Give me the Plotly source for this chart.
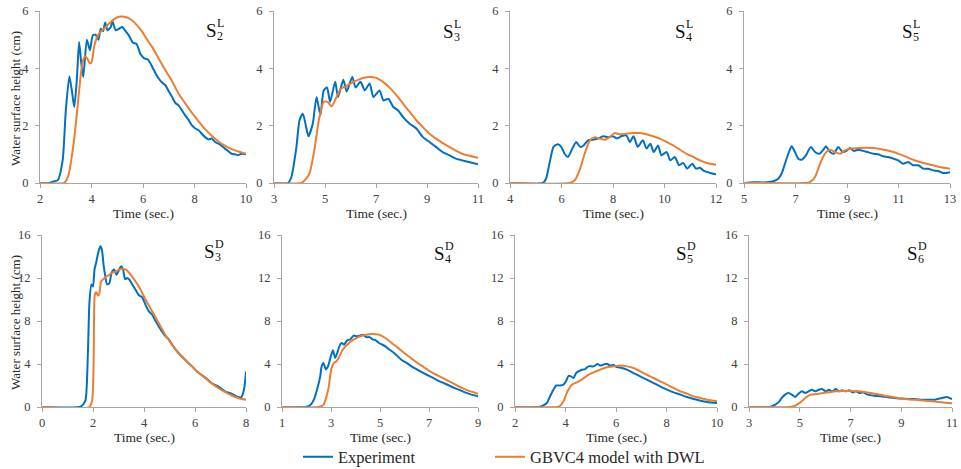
import plotly.graph_objects as go
from plotly.subplots import make_subplots

# ---------------- data ----------------
# Top row (S^L stations)
s2L_exp_t = [2.0, 2.37, 2.5, 2.69, 2.88, 3.0, 3.14, 3.24, 3.33, 3.43, 3.52, 3.6, 3.68, 3.82, 3.94, 4.05, 4.16, 4.27, 4.36, 4.45, 4.53, 4.62, 4.75, 4.81, 4.94, 5.07, 5.2, 5.32, 5.45, 5.6, 5.75, 5.9, 6.05, 6.2, 6.36, 6.5, 6.61, 6.75, 6.87, 7.0, 7.13, 7.25, 7.38, 7.5, 7.64, 7.77, 7.9, 8.03, 8.16, 8.3, 8.41, 8.55, 8.67, 8.8, 8.93, 9.05, 9.18, 9.3, 9.44, 9.57, 9.7, 9.83, 10.0]
s2L_exp_h = [0.0, 0.0, 0.05, 0.1, 0.79, 2.5, 3.72, 3.2, 2.65, 3.6, 4.92, 4.2, 3.7, 5.0, 4.63, 5.15, 5.17, 5.0, 5.38, 5.3, 5.6, 5.33, 5.44, 5.65, 5.33, 5.38, 5.44, 5.3, 5.15, 4.9, 4.85, 4.5, 4.35, 4.3, 4.05, 3.8, 3.64, 3.5, 3.41, 3.2, 3.0, 2.8, 2.71, 2.55, 2.36, 2.2, 2.01, 1.9, 1.84, 1.7, 1.6, 1.52, 1.55, 1.43, 1.37, 1.3, 1.2, 1.12, 1.02, 1.0, 0.97, 1.02, 1.0]
s2L_mod_t = [2.0, 2.94, 3.04, 3.14, 3.23, 3.33, 3.43, 3.52, 3.6, 3.68, 3.75, 3.84, 3.93, 4.0, 4.1, 4.2, 4.29, 4.42, 4.55, 4.68, 4.81, 4.94, 5.07, 5.2, 5.32, 5.45, 5.58, 5.77, 5.97, 6.16, 6.36, 6.6, 6.87, 7.13, 7.38, 7.64, 7.9, 8.16, 8.41, 8.67, 8.93, 9.18, 9.44, 9.7, 10.0]
s2L_mod_h = [0.0, 0.0, 0.12, 0.4, 0.9, 1.55, 2.4, 3.23, 3.9, 4.3, 4.42, 4.34, 4.18, 4.2, 4.75, 5.05, 5.21, 5.33, 5.44, 5.56, 5.67, 5.75, 5.8, 5.81, 5.79, 5.74, 5.67, 5.5, 5.27, 5.0, 4.74, 4.35, 3.93, 3.55, 3.12, 2.78, 2.45, 2.15, 1.88, 1.65, 1.45, 1.3, 1.18, 1.1, 1.02]

s3L_exp_t = [3.0, 3.55, 3.68, 3.88, 4.0, 4.13, 4.26, 4.35, 4.52, 4.67, 4.82, 4.95, 5.08, 5.2, 5.4, 5.51, 5.72, 5.85, 6.07, 6.2, 6.39, 6.56, 6.75, 6.9, 7.14, 7.29, 7.48, 7.68, 7.87, 8.06, 8.32, 8.58, 8.84, 9.1, 9.35, 9.61, 9.87, 10.13, 10.38, 10.64, 11.0]
s3L_exp_h = [0.0, 0.0, 0.2, 1.26, 2.19, 2.42, 1.95, 1.63, 2.07, 3.0, 2.36, 3.23, 3.33, 2.83, 3.53, 3.0, 3.6, 3.19, 3.7, 3.33, 3.53, 3.23, 3.47, 3.0, 3.23, 2.88, 2.94, 2.65, 2.53, 2.3, 2.07, 1.9, 1.6, 1.43, 1.26, 1.08, 0.97, 0.85, 0.79, 0.73, 0.65]
s3L_mod_t = [3.0, 4.07, 4.2, 4.39, 4.58, 4.78, 4.95, 5.1, 5.26, 5.42, 5.62, 5.81, 6.0, 6.26, 6.52, 6.78, 7.03, 7.29, 7.55, 7.81, 8.06, 8.32, 8.58, 8.84, 9.1, 9.35, 9.87, 10.38, 11.0]
s3L_mod_h = [0.0, 0.0, 0.09, 0.33, 1.14, 2.3, 2.83, 2.83, 2.67, 2.94, 3.29, 3.37, 3.47, 3.58, 3.67, 3.7, 3.66, 3.52, 3.31, 3.06, 2.77, 2.48, 2.19, 1.95, 1.72, 1.55, 1.26, 1.02, 0.88]

s4L_exp_t = [4.0, 5.27, 5.4, 5.53, 5.69, 5.86, 5.99, 6.12, 6.25, 6.42, 6.57, 6.73, 6.86, 7.03, 7.22, 7.42, 7.61, 7.81, 8.0, 8.16, 8.32, 8.52, 8.65, 8.8, 8.96, 9.16, 9.3, 9.45, 9.58, 9.75, 9.88, 10.08, 10.23, 10.4, 10.57, 10.73, 10.88, 11.08, 11.22, 11.38, 11.53, 11.77, 12.0]
s4L_exp_h = [0.0, 0.0, 0.15, 0.67, 1.26, 1.35, 1.26, 1.02, 0.91, 1.2, 1.43, 1.26, 1.31, 1.49, 1.51, 1.55, 1.63, 1.6, 1.63, 1.55, 1.63, 1.66, 1.43, 1.63, 1.26, 1.49, 1.2, 1.37, 1.08, 1.31, 0.97, 1.08, 0.79, 0.91, 0.62, 0.7, 0.5, 0.67, 0.5, 0.53, 0.42, 0.35, 0.3]
s4L_mod_t = [4.0, 6.31, 6.51, 6.7, 6.9, 7.1, 7.29, 7.48, 7.68, 7.87, 8.06, 8.26, 8.52, 8.78, 9.04, 9.3, 9.56, 9.82, 10.08, 10.34, 10.6, 10.86, 11.12, 11.38, 11.64, 12.0]
s4L_mod_h = [0.0, 0.0, 0.09, 0.44, 1.02, 1.49, 1.6, 1.55, 1.51, 1.6, 1.74, 1.7, 1.72, 1.74, 1.74, 1.7, 1.63, 1.55, 1.43, 1.31, 1.16, 1.02, 0.91, 0.79, 0.7, 0.64]

s5L_exp_t = [5.0, 5.36, 5.75, 6.14, 6.33, 6.46, 6.59, 6.72, 6.85, 6.98, 7.11, 7.24, 7.41, 7.59, 7.76, 7.92, 8.08, 8.18, 8.34, 8.49, 8.66, 8.83, 8.98, 9.11, 9.27, 9.44, 9.63, 9.82, 10.02, 10.21, 10.41, 10.6, 10.8, 10.99, 11.18, 11.38, 11.57, 11.77, 11.96, 12.15, 12.35, 12.54, 12.74, 13.0]
s5L_exp_h = [0.0, 0.03, 0.02, 0.06, 0.15, 0.33, 0.67, 1.02, 1.28, 1.08, 0.85, 0.81, 0.97, 1.26, 1.08, 1.02, 1.16, 1.28, 1.08, 1.02, 1.26, 1.08, 1.12, 1.22, 1.12, 1.16, 1.12, 1.07, 1.02, 1.0, 0.93, 0.91, 0.85, 0.79, 0.67, 0.73, 0.62, 0.62, 0.5, 0.5, 0.44, 0.42, 0.35, 0.38]
s5L_mod_t = [5.0, 7.3, 7.56, 7.76, 7.95, 8.14, 8.34, 8.53, 8.73, 8.92, 9.18, 9.5, 9.76, 10.02, 10.28, 10.54, 10.8, 11.05, 11.31, 11.57, 11.83, 12.09, 12.35, 12.6, 13.0]
s5L_mod_h = [0.0, 0.0, 0.03, 0.21, 0.67, 1.02, 1.16, 1.08, 1.02, 1.14, 1.2, 1.22, 1.23, 1.22, 1.19, 1.14, 1.08, 1.0, 0.91, 0.81, 0.73, 0.67, 0.62, 0.56, 0.5]

# Bottom row (S^D stations)
s3D_exp_t = [0.0, 1.47, 1.6, 1.71, 1.8, 1.86, 1.94, 2.0, 2.06, 2.12, 2.22, 2.29, 2.35, 2.42, 2.48, 2.55, 2.64, 2.73, 2.83, 2.92, 3.03, 3.1, 3.18, 3.26, 3.35, 3.44, 3.54, 3.67, 3.8, 3.93, 4.06, 4.19, 4.32, 4.45, 4.58, 4.71, 4.84, 4.97, 5.1, 5.36, 5.61, 5.87, 6.13, 6.39, 6.65, 6.91, 7.17, 7.43, 7.68, 7.81, 7.92, 8.0]
s3D_exp_h = [0.0, 0.0, 0.2, 0.68, 5.0, 9.7, 11.4, 11.2, 12.8, 13.4, 14.5, 14.95, 14.6, 13.1, 12.2, 11.4, 11.5, 12.5, 12.8, 12.3, 12.8, 13.1, 12.8, 11.9, 12.0, 11.8, 11.4, 10.9, 10.4, 10.2, 9.5, 8.9, 8.6, 8.0, 7.5, 7.0, 6.6, 6.3, 5.8, 5.0, 4.4, 3.8, 3.2, 2.76, 2.23, 1.92, 1.46, 1.24, 0.93, 0.9, 1.6, 3.3]
s3D_mod_t = [0.0, 1.86, 1.97, 2.03, 2.07, 2.12, 2.2, 2.25, 2.32, 2.41, 2.51, 2.64, 2.77, 2.9, 3.03, 3.16, 3.29, 3.41, 3.54, 3.8, 4.06, 4.32, 4.58, 4.84, 5.1, 5.36, 5.61, 5.87, 6.13, 6.39, 6.65, 6.91, 7.17, 7.43, 7.68, 8.0]
s3D_mod_h = [0.0, 0.0, 0.68, 5.0, 10.45, 10.7, 10.35, 10.6, 11.7, 11.9, 12.1, 12.3, 12.5, 12.6, 12.8, 12.84, 12.8, 12.5, 12.1, 11.2, 10.0, 8.9, 7.8, 6.7, 5.8, 5.0, 4.4, 3.8, 3.2, 2.7, 2.2, 1.77, 1.4, 1.09, 0.84, 0.68]

s4D_exp_t = [1.0, 1.97, 2.17, 2.3, 2.43, 2.56, 2.62, 2.69, 2.79, 2.88, 2.99, 3.08, 3.17, 3.25, 3.34, 3.43, 3.53, 3.66, 3.79, 3.92, 4.05, 4.18, 4.31, 4.44, 4.57, 4.7, 4.83, 4.96, 5.09, 5.22, 5.35, 5.61, 5.87, 6.13, 6.39, 6.65, 6.91, 7.17, 7.43, 7.69, 7.95, 8.21, 8.47, 8.73, 9.0]
s4D_exp_h = [0.0, 0.0, 0.2, 0.68, 1.6, 2.85, 3.8, 4.1, 3.5, 3.8, 4.7, 5.27, 4.56, 5.0, 5.64, 5.95, 5.8, 6.2, 6.3, 6.64, 6.57, 6.64, 6.73, 6.5, 6.5, 6.3, 6.2, 5.95, 5.8, 5.64, 5.4, 4.96, 4.4, 4.03, 3.63, 3.32, 3.0, 2.7, 2.39, 2.14, 1.86, 1.61, 1.36, 1.15, 1.0]
s4D_mod_t = [1.0, 2.49, 2.69, 2.82, 2.91, 3.01, 3.12, 3.22, 3.34, 3.47, 3.66, 3.92, 4.18, 4.44, 4.7, 4.96, 5.22, 5.48, 5.74, 6.0, 6.26, 6.52, 6.78, 7.04, 7.3, 7.56, 7.82, 8.08, 8.34, 8.6, 9.0]
s4D_mod_h = [0.0, 0.0, 0.2, 1.0, 1.9, 3.5, 4.1, 4.25, 4.7, 5.3, 5.8, 6.26, 6.57, 6.73, 6.8, 6.73, 6.42, 5.95, 5.5, 5.0, 4.56, 4.1, 3.72, 3.32, 3.0, 2.7, 2.39, 2.08, 1.77, 1.52, 1.24]

s5D_exp_t = [2.0, 2.93, 3.12, 3.26, 3.39, 3.52, 3.63, 3.79, 3.92, 4.02, 4.12, 4.21, 4.32, 4.42, 4.51, 4.65, 4.78, 4.91, 5.11, 5.27, 5.37, 5.5, 5.63, 5.77, 5.9, 6.03, 6.23, 6.43, 6.69, 6.96, 7.22, 7.49, 7.75, 8.02, 8.28, 8.55, 8.81, 9.08, 9.34, 9.61, 10.0]
s5D_exp_h = [0.0, 0.0, 0.15, 0.37, 1.0, 1.6, 2.0, 2.0, 2.08, 2.4, 2.9, 2.85, 2.7, 3.16, 3.32, 3.47, 3.53, 3.78, 3.78, 4.0, 3.85, 3.94, 4.03, 3.85, 3.9, 3.72, 3.63, 3.47, 3.16, 2.85, 2.54, 2.23, 1.92, 1.61, 1.36, 1.15, 0.93, 0.74, 0.59, 0.47, 0.37]
s5D_mod_t = [2.0, 3.66, 3.79, 3.92, 4.08, 4.25, 4.45, 4.65, 4.84, 5.11, 5.37, 5.63, 5.9, 6.16, 6.43, 6.69, 6.96, 7.22, 7.49, 7.75, 8.02, 8.28, 8.55, 8.81, 9.08, 9.34, 9.61, 10.0]
s5D_mod_h = [0.0, 0.0, 0.12, 0.53, 1.46, 2.08, 2.3, 2.54, 2.9, 3.22, 3.47, 3.69, 3.78, 3.85, 3.78, 3.63, 3.32, 3.0, 2.7, 2.39, 2.08, 1.77, 1.46, 1.24, 0.99, 0.84, 0.68, 0.53]

s6D_exp_t = [3.0, 3.82, 4.02, 4.16, 4.29, 4.42, 4.55, 4.69, 4.82, 4.95, 5.08, 5.22, 5.35, 5.48, 5.62, 5.75, 5.88, 6.02, 6.15, 6.28, 6.42, 6.55, 6.68, 6.82, 6.95, 7.08, 7.22, 7.35, 7.48, 7.68, 7.94, 8.21, 8.47, 8.74, 9.0, 9.27, 9.53, 9.8, 10.06, 10.33, 10.6, 10.8, 11.0]
s6D_exp_h = [0.0, 0.0, 0.2, 0.43, 0.84, 1.15, 1.3, 1.15, 0.93, 1.24, 1.46, 1.3, 1.46, 1.6, 1.46, 1.6, 1.67, 1.46, 1.6, 1.46, 1.67, 1.46, 1.55, 1.46, 1.55, 1.36, 1.46, 1.3, 1.36, 1.15, 1.05, 0.99, 0.9, 0.84, 0.78, 0.74, 0.74, 0.68, 0.68, 0.68, 0.84, 0.93, 0.74]
s6D_mod_t = [3.0, 4.62, 4.82, 5.02, 5.22, 5.42, 5.68, 5.95, 6.21, 6.48, 6.75, 7.01, 7.28, 7.54, 7.81, 8.08, 8.34, 8.61, 8.87, 9.14, 9.4, 9.67, 9.93, 10.2, 10.46, 10.73, 11.0]
s6D_mod_h = [0.0, 0.0, 0.12, 0.43, 0.84, 1.15, 1.21, 1.3, 1.4, 1.46, 1.49, 1.49, 1.46, 1.4, 1.3, 1.18, 1.05, 0.96, 0.84, 0.74, 0.68, 0.65, 0.59, 0.53, 0.47, 0.4, 0.34]

station_labels = [("2", "L"), ("3", "L"), ("4", "L"), ("5", "L"),
                  ("3", "D"), ("4", "D"), ("5", "D"), ("6", "D")]
x_ranges = [(2, 10), (3, 11), (4, 12), (5, 13), (0, 8), (1, 9), (2, 10), (3, 11)]
x_ticks = [[2, 4, 6, 8, 10], [3, 5, 7, 9, 11], [4, 6, 8, 10, 12], [5, 7, 9, 11, 13],
           [0, 2, 4, 6, 8], [1, 3, 5, 7, 9], [2, 4, 6, 8, 10], [3, 5, 7, 9, 11]]
y_top_ticks = [0, 2, 4, 6]
y_bot_ticks = [0, 4, 8, 12, 16]
series_names = ["Experiment", "GBVC4 model with DWL"]
x_title = "Time (sec.)"
y_title = "Water surface height (cm)"

panels = [
    (s2L_exp_t, s2L_exp_h, s2L_mod_t, s2L_mod_h),
    (s3L_exp_t, s3L_exp_h, s3L_mod_t, s3L_mod_h),
    (s4L_exp_t, s4L_exp_h, s4L_mod_t, s4L_mod_h),
    (s5L_exp_t, s5L_exp_h, s5L_mod_t, s5L_mod_h),
    (s3D_exp_t, s3D_exp_h, s3D_mod_t, s3D_mod_h),
    (s4D_exp_t, s4D_exp_h, s4D_mod_t, s4D_mod_h),
    (s5D_exp_t, s5D_exp_h, s5D_mod_t, s5D_mod_h),
    (s6D_exp_t, s6D_exp_h, s6D_mod_t, s6D_mod_h),
]

# ---------------- layout geometry (screen pixels) ----------------
W, H = 961, 469


def px(x):
    return x / W


def py(y):
    return 1 - y / H


col_px_top = [(40, 246), (274, 478), (510, 716), (744, 950)]
col_px_bot = [(42, 246), (282, 478), (515, 717), (749, 952)]
row_px = [(11, 183), (235, 407)]
label_px = [(211, 30), (448, 31), (680, 31), (907, 31),
            (209, 251), (439, 253), (681, 253), (912, 253)]

BLUE = "#0070C0"
ORANGE = "#ED7D31"
AXIS = "#A6A6A6"
TXT = "#404040"
FONT = "Liberation Serif, Times New Roman, serif"

fig = make_subplots(rows=2, cols=4)

for i, (et, eh, mt, mh) in enumerate(panels):
    r, c = i // 4 + 1, i % 4 + 1
    fig.add_trace(go.Scatter(x=et, y=eh, mode="lines", name=series_names[0],
                             line=dict(color=BLUE, width=2, shape="spline", smoothing=0.6),
                             showlegend=(i == 0), legend="legend"), row=r, col=c)
    fig.add_trace(go.Scatter(x=mt, y=mh, mode="lines", name=series_names[1],
                             line=dict(color=ORANGE, width=2, shape="spline", smoothing=0.6),
                             showlegend=(i == 0), legend="legend2"), row=r, col=c)

for i in range(8):
    row = i // 4
    cols = col_px_top if row == 0 else col_px_bot
    x0, x1 = cols[i % 4]
    y0, y1 = row_px[row]
    n = "" if i == 0 else str(i + 1)
    fig.layout["xaxis" + n].update(
        domain=[px(x0), px(x1)], range=list(x_ranges[i]), tickvals=x_ticks[i],
        automargin=False,
        showline=True, linecolor=AXIS, linewidth=1, showgrid=False, zeroline=False,
        ticks="outside", ticklen=4, tickcolor=AXIS, ticklabelstandoff=0,
        tickfont=dict(family=FONT, size=12.5, color=TXT))
    fig.layout["yaxis" + n].update(
        domain=[py(y1), py(y0)], range=[0, 6] if row == 0 else [0, 16],
        tickvals=y_top_ticks if row == 0 else y_bot_ticks,
        automargin=False,
        showline=True, linecolor=AXIS, linewidth=1, showgrid=False, zeroline=False,
        ticks="outside", ticklen=4, tickcolor=AXIS, ticklabelstandoff=4,
        tickfont=dict(family=FONT, size=12.5, color=TXT))
    # x-axis title
    fig.add_annotation(text=x_title, xref=("x" + n + " domain"), x=0.5, yref="paper",
                       y=py(y1 + 30), showarrow=False, xanchor="center", yanchor="middle",
                       font=dict(family=FONT, size=13.5, color="#262626"))
    # station label S_sub^sup
    sx, sy = label_px[i]
    sub, sup = station_labels[i]
    fig.add_annotation(text="S", xref="paper", yref="paper", x=px(sx), y=py(sy),
                       showarrow=False, xanchor="center", yanchor="middle",
                       font=dict(family=FONT, size=19, color="#111111"))
    fig.add_annotation(text=sup, xref="paper", yref="paper", x=px(sx + 4), y=py(sy - 7),
                       showarrow=False, xanchor="left", yanchor="middle",
                       font=dict(family=FONT, size=12, color="#111111"))
    fig.add_annotation(text=sub, xref="paper", yref="paper", x=px(sx + 4), y=py(sy + 6),
                       showarrow=False, xanchor="left", yanchor="middle",
                       font=dict(family=FONT, size=12, color="#111111"))

for row in range(2):
    y0, y1 = row_px[row]
    fig.add_annotation(text=y_title, textangle=-90, xref="paper", yref="paper",
                       x=px(15), y=py((y0 + y1) / 2 + 2), showarrow=False,
                       xanchor="center", yanchor="middle",
                       font=dict(family=FONT, size=13, color="#262626"))

legend_font = dict(family=FONT, size=16.5, color="#262626")
fig.update_layout(
    template="none",
    width=W, height=H, margin=dict(l=0, r=0, t=0, b=0, autoexpand=False),
    paper_bgcolor="white", plot_bgcolor="white",
    showlegend=True,
    legend=dict(orientation="h", x=px(298), y=py(457), xanchor="left", yanchor="middle",
                font=legend_font, bgcolor="rgba(0,0,0,0)"),
    legend2=dict(orientation="h", x=px(490), y=py(457), xanchor="left", yanchor="middle",
                 font=legend_font, bgcolor="rgba(0,0,0,0)"),
)

fig.write_html("out.html", config={"displayModeBar": False},
               post_script="document.body.style.margin='0';")
